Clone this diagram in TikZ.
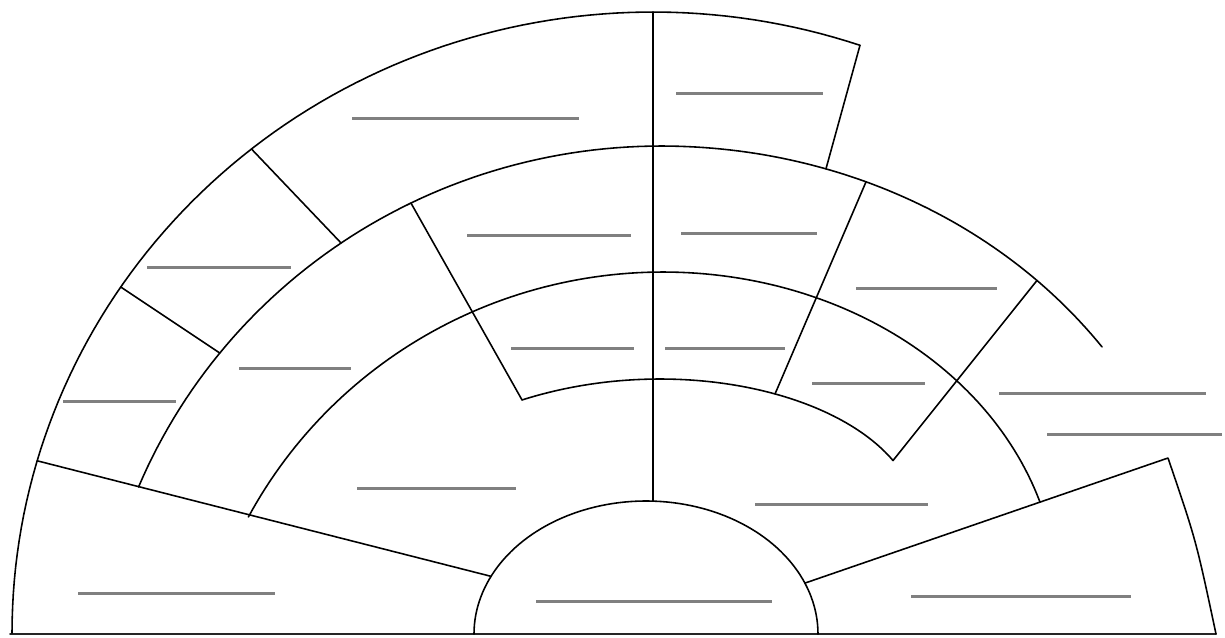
\documentclass[tikz,border=0pt]{standalone}
\definecolor{labelgray}{RGB}{128,128,128}
\begin{document}
\begin{tikzpicture}[x=0.02cm,y=-0.02cm,
  edge/.style={line width=0.9pt, black, line join=round, line cap=round},
  blank/.style={line width=1.7pt, labelgray}]
\useasboundingbox (0,0) rectangle (1225,637);
% ---- junction coordinates (points on the curves) ----
\coordinate (bL) at (10,634);
\coordinate (bR) at (1216,634);
% outer arc E1: centre (653,633), rx 641, ry 621
\coordinate (j1)  at ({653+641*cos(163.9)},{633-621*sin(163.9)});
\coordinate (j2)  at ({653+641*cos(146.14)},{633-621*sin(146.14)});
\coordinate (j3)  at ({653+641*cos(128.79)},{633-621*sin(128.79)});
\coordinate (top) at (653,12);
\coordinate (a1R) at ({653+641*cos(71.16)},{633-621*sin(71.16)});
% arc 2: left (661,700; 566,554), right (661,633; 545,487)
\coordinate (a2L) at ({661+566*cos(157.39)},{700-554*sin(157.39)});
\coordinate (k2)  at ({661+566*cos(141.22)},{700-554*sin(141.22)});
\coordinate (k3)  at ({661+566*cos(124.42)},{700-554*sin(124.42)});
\coordinate (k4)  at ({661+566*cos(116.22)},{700-554*sin(116.22)});
\coordinate (k6)  at ({661+545*cos(72.38)},{633-487*sin(72.38)});
\coordinate (k7)  at ({661+545*cos(67.9)},{633-487*sin(67.9)});
\coordinate (k8)  at ({661+545*cos(46.38)},{633-487*sin(46.38)});
% arc 3: left (663,735; 470,463), right (663,600; 395,328)
\coordinate (a3L) at ({663+470*cos(151.91)},{735-463*sin(151.91)});
\coordinate (a3R) at ({663+395*cos(17.35)},{600-328*sin(17.35)});
% arc 4: left (660,633; 347,254), right (660,520; 257,141)
\coordinate (a4L) at ({660+347*cos(113.43)},{633-254*sin(113.43)});
\coordinate (a4M) at ({660+257*cos(63.41)},{520-141*sin(63.41)});
\coordinate (a4R) at ({660+257*cos(24.95)},{520-141*sin(24.95)});
% small half ellipse: centre (646,634), rx 172, ry 133
\coordinate (s1)   at ({646+172*cos(154.3)},{634-133*sin(154.3)});
\coordinate (s2)   at ({646+172*cos(22.5)},{634-133*sin(22.5)});
\coordinate (stop) at (653,501);
\coordinate (rc) at (1168,458);
% ---- baseline ----
\draw[edge, line width=1.1pt, black!85] (bL) -- (bR);
% ---- arcs ----
\draw[edge] plot[domain=180:71.16, samples=90, variable=\t] ({653+641*cos(\t)},{633-621*sin(\t)});
\draw[edge] plot[domain=157.39:90, samples=60, variable=\t] ({661+566*cos(\t)},{700-554*sin(\t)})
         -- plot[domain=90:35.98, samples=60, variable=\t] ({661+545*cos(\t)},{633-487*sin(\t)});
\draw[edge] plot[domain=151.91:90, samples=60, variable=\t] ({663+470*cos(\t)},{735-463*sin(\t)})
         -- plot[domain=90:17.35, samples=60, variable=\t] ({663+395*cos(\t)},{600-328*sin(\t)});
\draw[edge] plot[domain=113.43:90, samples=30, variable=\t] ({660+347*cos(\t)},{633-254*sin(\t)})
         -- plot[domain=90:24.95, samples=50, variable=\t] ({660+257*cos(\t)},{520-141*sin(\t)});
\draw[edge] plot[domain=180:0, samples=90, variable=\t] ({646+172*cos(\t)},{634-133*sin(\t)});
% ---- radial lines ----
\draw[edge] (j1) -- (s1);
\draw[edge] (s2) -- (rc) .. controls (1196,540) .. (bR);
\draw[edge] (top) -- (stop);
\draw[edge] (j3) -- (k3);
\draw[edge] (j2) -- (k2);
\draw[edge] (k4) -- (a4L);
\draw[edge] (a1R) -- (k6);
\draw[edge] (k7) -- (a4M);
\draw[edge] (k8) -- (a4R);
% ---- blank label lines ----
\draw[blank] (352,118) -- (579,118);
\draw[blank] (676,93) -- (823,93);
\draw[blank] (147,267) -- (291,267);
\draw[blank] (239,368) -- (351,368);
\draw[blank] (63,401) -- (176,401);
\draw[blank] (467,235) -- (631,235);
\draw[blank] (681,233) -- (817,233);
\draw[blank] (511,348) -- (634,348);
\draw[blank] (665,348) -- (785,348);
\draw[blank] (856,288) -- (997,288);
\draw[blank] (812,383) -- (925,383);
\draw[blank] (999,393) -- (1206,393);
\draw[blank] (1047,434) -- (1222,434);
\draw[blank] (357,488) -- (516,488);
\draw[blank] (755,504) -- (928,504);
\draw[blank] (78,593) -- (275,593);
\draw[blank] (536,601) -- (772,601);
\draw[blank] (911,596) -- (1131,596);
\end{tikzpicture}
\end{document}
